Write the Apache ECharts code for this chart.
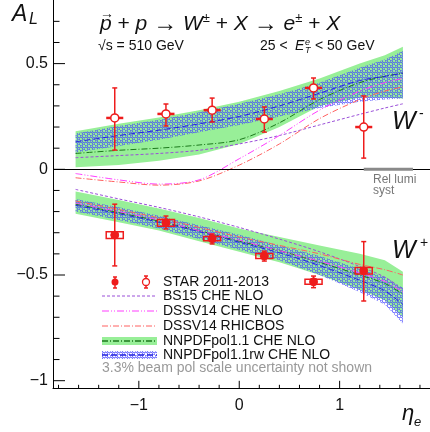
<!DOCTYPE html>
<html lang="en">
<head>
<meta charset="UTF-8">
<title>W asymmetry A_L</title>
<script src="https://cdn.jsdelivr.net/npm/echarts@6.0.0/dist/echarts.min.js"></script>
<style>html,body{margin:0;padding:0;background:#fff;}</style>
</head>
<body>
<div id="main" style="width:430px;height:432px;"></div>
<script>
// STAR data points (same eta bins for W- and W+)
const etaBins = [-1.24, -0.73, -0.27, 0.25, 0.74, 1.24];
const binHalfWidth = 0.085;
const wmAL  = [0.243, 0.262, 0.280, 0.238, 0.385, 0.200];
const wmLo  = [0.091, 0.205, 0.224, 0.176, 0.333, 0.053];
const wmHi  = [0.385, 0.309, 0.337, 0.295, 0.432, 0.347];
const wmSys = [0.004, 0.004, 0.004, 0.004, 0.004, 0.004];
const wpAL  = [-0.311, -0.253, -0.328, -0.410, -0.532, -0.480];
const wpLo  = [-0.457, -0.282, -0.353, -0.434, -0.560, -0.623];
const wpHi  = [-0.165, -0.221, -0.306, -0.387, -0.505, -0.342];
const wpSys = [0.016, 0.016, 0.010, 0.012, 0.012, 0.015];

// theory curves, sampled on a common eta grid
const etaTh = [-1.63, -1.2, -0.8, -0.4, 0, 0.4, 0.8, 1.2, 1.45, 1.63];
// W-
const wmNNUp  = [0.18, 0.215, 0.245, 0.28, 0.32, 0.37, 0.43, 0.50, 0.54, 0.58];
const wmNNLo  = [0.01, 0.02, 0.04, 0.07, 0.12, 0.20, 0.30, 0.34, 0.34, 0.335];
const wmNNC   = [0.075, 0.09, 0.10, 0.115, 0.14, 0.22, 0.33, 0.41, 0.44, 0.455];
const wmRwUp  = [0.17, 0.205, 0.235, 0.27, 0.31, 0.355, 0.41, 0.48, 0.52, 0.56];
const wmRwLo  = [0.08, 0.11, 0.14, 0.175, 0.21, 0.25, 0.29, 0.32, 0.33, 0.335];
const wmRwC   = [0.13, 0.16, 0.185, 0.215, 0.25, 0.30, 0.36, 0.42, 0.44, 0.455];
const wmBS15  = [0.055, 0.065, 0.075, 0.09, 0.12, 0.16, 0.21, 0.26, 0.29, 0.31];
const wmDSSV  = [-0.02, -0.05, -0.07, -0.05, 0.05, 0.16, 0.28, 0.37, 0.41, 0.43];
const wmRHIC  = [-0.04, -0.06, -0.075, -0.055, 0.02, 0.12, 0.24, 0.33, 0.37, 0.39];
// W+
const wpNNUp  = [-0.105, -0.145, -0.185, -0.23, -0.28, -0.32, -0.36, -0.40, -0.43, -0.485];
const wpNNLo  = [-0.21, -0.25, -0.29, -0.34, -0.39, -0.44, -0.50, -0.57, -0.62, -0.70];
const wpNNC   = [-0.165, -0.205, -0.245, -0.29, -0.34, -0.385, -0.44, -0.50, -0.54, -0.59];
const wpRwUp  = [-0.14, -0.18, -0.22, -0.265, -0.31, -0.36, -0.41, -0.47, -0.51, -0.56];
const wpRwLo  = [-0.20, -0.24, -0.28, -0.33, -0.38, -0.43, -0.50, -0.58, -0.64, -0.73];
const wpRwC   = [-0.17, -0.21, -0.25, -0.295, -0.345, -0.395, -0.455, -0.525, -0.575, -0.64];
const wpBS15  = [-0.095, -0.14, -0.18, -0.225, -0.275, -0.33, -0.39, -0.46, -0.51, -0.57];
const wpDSSV  = [-0.16, -0.20, -0.24, -0.29, -0.335, -0.385, -0.435, -0.49, -0.53, -0.58];
const wpRHIC  = [-0.15, -0.19, -0.23, -0.275, -0.32, -0.36, -0.40, -0.45, -0.475, -0.50];

const relLumiRange = [1.24, 1.73];

// axis ticks and labels
const xMajorTicks = [-1, 0, 1];
const xTickLabels = ['\u22121', '0', '1'];
const xMinorTicks = [-1.8, -1.6, -1.4, -1.2, -0.8, -0.6, -0.4, -0.2, 0.2, 0.4, 0.6, 0.8, 1.2, 1.4, 1.6, 1.8];
const yMajorTicks = [-1, -0.5, 0, 0.5];
const yTickLabels = ['\u22121', '\u22120.5', '0', '0.5'];
const yMinorTicks = [-0.9, -0.8, -0.7, -0.6, -0.4, -0.3, -0.2, -0.1, 0.1, 0.2, 0.3, 0.4, 0.6, 0.7];

const X_MIN = -1.855, X_MAX = 1.9, Y_MIN = -1.036, Y_MAX = 0.801;
const FONT = '"Liberation Sans", Arial, Helvetica, sans-serif';
const RED = '#ee1c1c';
const GREEN = '#98ef98';
const C_BS15 = '#9a4fd8', C_DSSV = '#ff3cff', C_RHIC = '#ff6060', C_NN = '#1c7a1c', C_RW = '#2626dd';
const D_BS15 = [3, 2], D_DSSV = [7, 2, 1, 2, 1, 2], D_RHIC = [6, 2, 1, 2], D_NN = [6, 2, 1, 2], D_RW = [6, 3];

// blue ring hatch used for the reweighted band
function makeHatch() {
    const c = document.createElement('canvas');
    c.width = 5; c.height = 5;
    const g = c.getContext('2d');
    g.strokeStyle = 'rgba(70,70,255,0.9)';
    g.lineWidth = 1;
    [[1.25, 1.25], [3.75, 3.75]].forEach(p => {
        g.beginPath(); g.arc(p[0], p[1], 1.3, 0, Math.PI * 2); g.stroke();
    });
    return c;
}
const hatch = { image: makeHatch(), repeat: 'repeat' };

let myChart = echarts.init(document.getElementById('main'));

function band(lo, hi, fill, z) {
    return {
        type: 'custom', silent: true, z: z, clip: false,
        data: etaTh.map((x, i) => [x, lo[i], hi[i]]),
        encode: { x: 0, y: [1, 2] },
        renderItem: (params, api) => {
            if (params.dataIndex !== 0) return null;
            const pts = [];
            for (let i = 0; i < etaTh.length; i++) pts.push(api.coord([etaTh[i], hi[i]]));
            for (let i = etaTh.length - 1; i >= 0; i--) pts.push(api.coord([etaTh[i], lo[i]]));
            return { type: 'polygon', shape: { points: pts }, style: { fill: fill, stroke: null } };
        }
    };
}

function curve(ys, color, dash, z) {
    return {
        type: 'line', silent: true, z: z, smooth: 0.3, symbol: 'none',
        data: etaTh.map((x, i) => [x, ys[i]]),
        lineStyle: { color: color, width: 1, type: dash }
    };
}

function points(al, lo, hi, sys, open) {
    return {
        type: 'custom', silent: true, z: 20, clip: false,
        data: etaBins.map((x, i) => [x, al[i], lo[i], hi[i], sys[i]]),
        encode: { x: 0, y: 1 },
        renderItem: (params, api) => {
            const x = api.value(0), y = api.value(1);
            const c = api.coord([x, y]);
            const pl = api.coord([x, api.value(2)]);
            const ph = api.coord([x, api.value(3)]);
            const b1 = api.coord([x - binHalfWidth, y + api.value(4)]);
            const b2 = api.coord([x + binHalfWidth, y - api.value(4)]);
            const ls = { stroke: RED, lineWidth: 1.5 };
            const kids = [
                { type: 'line', shape: { x1: c[0], y1: pl[1], x2: c[0], y2: ph[1] }, style: ls },
                { type: 'line', shape: { x1: c[0] - 2.5, y1: pl[1], x2: c[0] + 2.5, y2: pl[1] }, style: ls },
                { type: 'line', shape: { x1: c[0] - 2.5, y1: ph[1], x2: c[0] + 2.5, y2: ph[1] }, style: ls }
            ];
            if (open) {
                kids.push({ type: 'line', shape: { x1: b1[0], y1: c[1], x2: b2[0], y2: c[1] }, style: { stroke: RED, lineWidth: 2.5 } });
                kids.push({ type: 'circle', shape: { cx: c[0], cy: c[1], r: 4 }, style: { fill: '#fff', stroke: RED, lineWidth: 1.5 } });
            } else {
                kids.push({ type: 'rect', shape: { x: b1[0], y: b1[1], width: b2[0] - b1[0], height: b2[1] - b1[1] }, style: { fill: 'none', stroke: RED, lineWidth: 1.5 } });
                kids.push({ type: 'circle', shape: { cx: c[0], cy: c[1], r: 4 }, style: { fill: RED, stroke: RED, lineWidth: 1 } });
            }
            return { type: 'group', children: kids };
        }
    };
}

function ticks(axis) {
    const isX = axis === 'x';
    const major = isX ? xMajorTicks : yMajorTicks;
    const minor = isX ? xMinorTicks : yMinorTicks;
    const labels = isX ? xTickLabels : yTickLabels;
    const data = major.map((v, i) => [v, 0, i]).concat(minor.map(v => [v, 0, -1]));
    return {
        type: 'custom', silent: true, z: 30, clip: false,
        data: data,
        encode: isX ? { x: 0, y: 1 } : { x: 1, y: 0 },
        renderItem: (params, api) => {
            const v = api.value(0), idx = api.value(2);
            const isMajor = idx >= 0;
            const kids = [];
            if (isX) {
                const p = api.coord([v, Y_MIN]);
                const len = isMajor ? 7.5 : 3.5;
                kids.push({ type: 'line', shape: { x1: p[0], y1: p[1], x2: p[0], y2: p[1] - len }, style: { stroke: '#000', lineWidth: 1 } });
                if (isMajor) kids.push({ type: 'text', style: { text: labels[idx], x: p[0], y: p[1] + 9, align: 'center', verticalAlign: 'top', font: '16px ' + FONT, fill: '#111' } });
            } else {
                const p = api.coord([X_MIN, v]);
                const len = isMajor ? 12 : 6.5;
                kids.push({ type: 'line', shape: { x1: p[0], y1: p[1], x2: p[0] + len, y2: p[1] }, style: { stroke: '#000', lineWidth: 1 } });
                if (isMajor) kids.push({ type: 'text', style: { text: labels[idx], x: p[0] - 5, y: p[1], align: 'right', verticalAlign: 'middle', font: '16px ' + FONT, fill: '#111' } });
            }
            return { type: 'group', children: kids };
        }
    };
}

const relLumi = {
    type: 'custom', silent: true, z: 15, clip: false,
    data: [[relLumiRange[0], relLumiRange[1], 0]],
    encode: { x: [0, 1], y: 2 },
    renderItem: (params, api) => {
        const a = api.coord([api.value(0), api.value(2)]);
        const b = api.coord([api.value(1), api.value(2)]);
        return { type: 'line', shape: { x1: a[0], y1: a[1], x2: b[0], y2: b[1] }, style: { stroke: '#8a8a8a', lineWidth: 3 } };
    }
};

const zeroLine = curve([], '#000', 'solid', 14);
zeroLine.data = [];
zeroLine.markLine = {
    silent: true, symbol: 'none', label: { show: false },
    lineStyle: { color: '#000', width: 1, type: 'solid' },
    data: [{ yAxis: 0 }]
};

function txt(text, x, y, size, opts) {
    return {
        type: 'text', x: x, y: y, silent: true, z: 50,
        style: Object.assign({ text: text, font: size + 'px ' + FONT, fill: '#111', verticalAlign: 'middle' }, opts || {})
    };
}
function seg(x1, y1, x2, y2, color, dash, w) {
    return { type: 'line', silent: true, z: 50, shape: { x1: x1, y1: y1, x2: x2, y2: y2 }, style: { stroke: color, lineWidth: w || 1, lineDash: dash || null } };
}

// legend
const lgY = [282, 296, 311, 326, 341, 355];
const legend = [
    seg(115, 277, 115, 288, RED, null, 1.5), seg(113, 277, 117, 277, RED, null, 1.5), seg(113, 288, 117, 288, RED, null, 1.5),
    { type: 'circle', silent: true, z: 51, shape: { cx: 115, cy: 282, r: 3.5 }, style: { fill: RED } },
    seg(146, 276, 146, 288, RED, null, 1.5), seg(144, 276, 148, 276, RED, null, 1.5), seg(144, 288, 148, 288, RED, null, 1.5),
    { type: 'circle', silent: true, z: 51, shape: { cx: 146, cy: 282, r: 3.5 }, style: { fill: '#fff', stroke: RED, lineWidth: 1.3 } },
    txt('STAR 2011-2013', 163, lgY[0], 14),
    seg(102, lgY[1], 157, lgY[1], C_BS15, D_BS15), txt('BS15 CHE NLO', 163, lgY[1], 14),
    seg(102, lgY[2], 157, lgY[2], C_DSSV, D_DSSV), txt('DSSV14 CHE NLO', 163, lgY[2], 14),
    seg(102, lgY[3], 157, lgY[3], C_RHIC, D_RHIC), txt('DSSV14 RHICBOS', 163, lgY[3], 14),
    { type: 'rect', silent: true, z: 50, shape: { x: 102, y: lgY[4] - 4, width: 55, height: 8 }, style: { fill: GREEN } },
    seg(102, lgY[4], 157, lgY[4], C_NN, D_NN, 1.5), txt('NNPDFpol1.1 CHE NLO', 163, lgY[4], 14),
    { type: 'rect', silent: true, z: 50, shape: { x: 102, y: lgY[5] - 4, width: 55, height: 8 }, style: { fill: hatch } },
    seg(102, lgY[5], 157, lgY[5], C_RW, D_RW, 1.5), txt('NNPDFpol1.1rw CHE NLO', 163, lgY[5], 14),
    txt('3.3% beam pol scale uncertainty not shown', 102, 368, 14, { fill: '#999' })
];

const labels = [
    txt('A', 12, 15, 23, { font: 'italic 23px ' + FONT }),
    txt('L', 29, 20, 16, { font: 'italic 16px ' + FONT }),
    txt('\u2192', 100, 14, 14, { font: '14px ' + FONT }),
    txt('{i|p} + {i|p} {a|\u2192} {i|W}{s|\u00b1} + {i|X} {a|\u2192} {i|e}{s|\u00b1} + {i|X}', 100, 24, 21, {
        rich: {
            i: { font: 'italic 21px ' + FONT, fill: '#111' },
            a: { font: '24px ' + FONT, fill: '#111' },
            s: { font: '13px ' + FONT, fill: '#111', verticalAlign: 'top' }
        }
    }),
    txt('\u221as = 510 GeV', 98, 46, 14),
    txt('25 <', 260, 46, 14),
    txt('E', 295, 46, 14, { font: 'italic 14px ' + FONT }),
    txt('e', 305, 42, 9, { font: 'italic 9px ' + FONT }),
    txt('T', 305, 50, 9, { font: 'italic 9px ' + FONT }),
    txt('< 50 GeV', 315, 46, 14),
    txt('W', 392, 122, 25, { font: 'italic 25px ' + FONT }),
    txt('-', 419, 114, 14),
    txt('W', 392, 251, 25, { font: 'italic 25px ' + FONT }),
    txt('+', 420, 243, 14),
    txt('Rel lumi', 373, 180, 12, { fill: '#777' }),
    txt('syst', 373, 191, 12, { fill: '#777' }),
    txt('\u03b7', 402, 414, 22, { font: 'italic 22px ' + FONT }),
    txt('e', 414, 422, 13, { font: 'italic 13px ' + FONT })
];

let options = {
    animation: false,
    grid: { left: 53, top: 0, right: -11, bottom: 43.7 },
    xAxis: {
        type: 'value', min: X_MIN, max: X_MAX,
        axisLine: { show: true, onZero: false, lineStyle: { color: '#000', width: 1 } },
        axisTick: { show: false }, axisLabel: { show: false }, splitLine: { show: false }
    },
    yAxis: {
        type: 'value', min: Y_MIN, max: Y_MAX,
        axisLine: { show: true, onZero: false, lineStyle: { color: '#000', width: 1 } },
        axisTick: { show: false }, axisLabel: { show: false }, splitLine: { show: false }
    },
    graphic: legend.concat(labels),
    series: [
        band(wmNNLo, wmNNUp, GREEN, 1),
        band(wpNNLo, wpNNUp, GREEN, 1),
        band(wmRwLo, wmRwUp, hatch, 2),
        band(wpRwLo, wpRwUp, hatch, 2),
        curve(wmNNC, C_NN, D_NN, 3), curve(wpNNC, C_NN, D_NN, 3),
        curve(wmRwC, C_RW, D_RW, 3), curve(wpRwC, C_RW, D_RW, 3),
        curve(wmBS15, C_BS15, D_BS15, 4), curve(wpBS15, C_BS15, D_BS15, 4),
        curve(wmDSSV, C_DSSV, D_DSSV, 4), curve(wpDSSV, C_DSSV, D_DSSV, 4),
        curve(wmRHIC, C_RHIC, D_RHIC, 4), curve(wpRHIC, C_RHIC, D_RHIC, 4),
        zeroLine,
        relLumi,
        points(wmAL, wmLo, wmHi, wmSys, true),
        points(wpAL, wpLo, wpHi, wpSys, false),
        ticks('x'),
        ticks('y')
    ]
};

myChart.setOption(options);
</script>
</body>
</html>
